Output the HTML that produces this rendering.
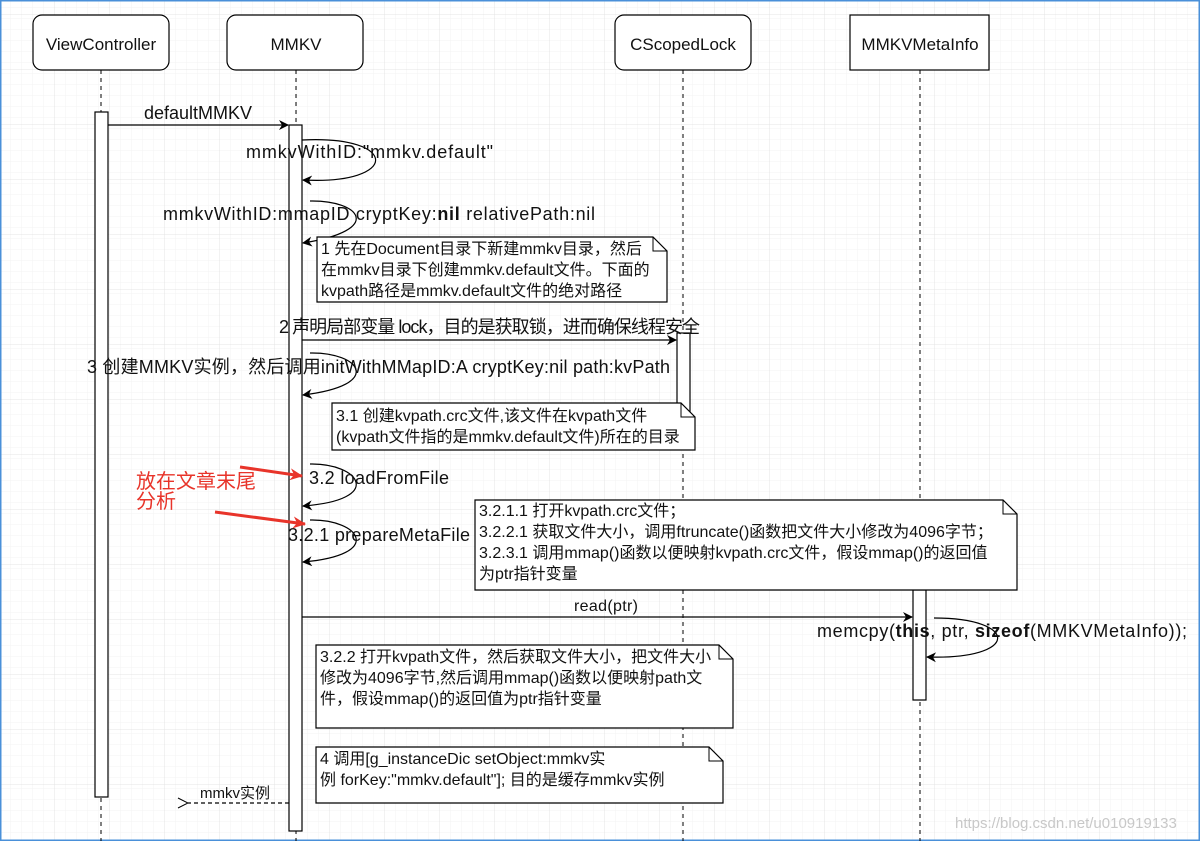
<!DOCTYPE html>
<html><head><meta charset="utf-8"><style>
body{margin:0;width:1200px;height:841px;overflow:hidden;background:#fff}
svg text{font-family:"Liberation Sans","Noto Sans CJK SC",sans-serif;fill:#111}
</style></head><body>
<svg width="1200" height="841" viewBox="0 0 1200 841" xmlns="http://www.w3.org/2000/svg">
<defs>
<pattern id="gm" width="11" height="11" patternUnits="userSpaceOnUse" x="0" y="4"><path d="M11 0V11M0 11H11" stroke="#f3f3f3" stroke-width="1" fill="none"/></pattern>
<pattern id="g" width="55" height="55" patternUnits="userSpaceOnUse" x="0" y="15"><rect width="55" height="55" fill="url(#gm)"/><path d="M55 0V55M0 55H55" stroke="#e4e4e4" stroke-width="1" fill="none"/></pattern>
<marker id="a" markerWidth="10" markerHeight="10" refX="9" refY="5" orient="auto" markerUnits="userSpaceOnUse"><path d="M0 0L10 5L0 10L3 5Z" fill="#000"/></marker>
<marker id="o" markerWidth="12" markerHeight="12" refX="1" refY="6" orient="auto" markerUnits="userSpaceOnUse"><path d="M11 1L1 6L11 11" fill="none" stroke="#000"/></marker>
<marker id="r" markerWidth="14" markerHeight="14" refX="12" refY="7" orient="auto" markerUnits="userSpaceOnUse"><path d="M0 1L13 7L0 13L4 7Z" fill="#e8342a"/></marker>
</defs>
<rect width="1200" height="841" fill="url(#g)"/>
<rect x="0.5" y="0.5" width="1199" height="840" fill="none" stroke="#4a90d9" stroke-width="2"/>
<g stroke="#000" stroke-dasharray="4,4" stroke-width="1"><path d="M101 70V841M296 70V841M683 70V841M920 70V841"/></g>
<g fill="#fff" stroke="#000" stroke-width="1.2">
<rect x="33" y="15" width="136" height="55" rx="9"/><rect x="227" y="15" width="136" height="55" rx="9"/>
<rect x="615" y="15" width="136" height="55" rx="9"/><rect x="850" y="15" width="139" height="55"/>
<rect x="95" y="112" width="13" height="685"/><rect x="289" y="125" width="13" height="706"/>
<rect x="677" y="333" width="13" height="80"/><rect x="913" y="590" width="13" height="110"/>
</g>
<g font-size="17" text-anchor="middle"><text x="101" y="50">ViewController</text><text x="296" y="50">MMKV</text><text x="683" y="50">CScopedLock</text><text x="920" y="50">MMKVMetaInfo</text></g>
<g stroke="#000" fill="none" stroke-width="1.2">
<path d="M108 125H288" marker-end="url(#a)"/>
<path d="M302 140C400 135 400 185 303 180" marker-end="url(#a)"/>
<path d="M310 201C360 200 385 230 303 243" marker-end="url(#a)"/>
<path d="M302 340H676" marker-end="url(#a)"/>
<path d="M310 353C360 352 385 385 303 395" marker-end="url(#a)"/>
<path d="M310 464C360 463 385 500 303 506" marker-end="url(#a)"/>
<path d="M310 520C360 519 385 555 303 562" marker-end="url(#a)"/>
<path d="M302 617H912" marker-end="url(#a)"/>
<path d="M934 618C1020 618 1020 660 927 657" marker-end="url(#a)"/>
<path d="M289 803H188" stroke-dasharray="4,3" marker-end="url(#o)"/>
</g>
<g font-size="18" lengthAdjust="spacingAndGlyphs">
<text x="144" y="119" textLength="108">defaultMMKV</text>
<text x="246" y="158" textLength="247">mmkvWithID:"mmkv.default"</text>
<text x="163" y="220" textLength="432">mmkvWithID:mmapID cryptKey:<tspan font-weight="bold">nil</tspan> relativePath:nil</text>
<text x="279" y="333" textLength="421">2 声明局部变量 lock，目的是获取锁，进而确保线程安全</text>
<text x="87" y="373" textLength="583">3 创建MMKV实例，然后调用initWithMMapID:A cryptKey:nil path:kvPath</text>
<text x="309" y="484" textLength="140">3.2 loadFromFile</text>
<text x="288" y="541" textLength="182">3.2.1 prepareMetaFile</text>
<text x="574" y="611" textLength="64" font-size="16">read(ptr)</text>
<text x="817" y="637" textLength="370">memcpy(<tspan font-weight="bold">this</tspan>, ptr, <tspan font-weight="bold">sizeof</tspan>(MMKVMetaInfo));</text>
<text x="200" y="798" font-size="15">mmkv实例</text>
</g>
<g fill="#fff" stroke="#000" stroke-width="1.2">
<path d="M317 237H653L667 251V302H317Z"/><path d="M332 403H681L695 417V450H332Z"/>
<path d="M475 500H1003L1017 514V590H475Z"/><path d="M316 645H719L733 659V728H316Z"/>
<path d="M316 747H709L723 761V803H316Z"/>
</g>
<g fill="none" stroke="#000" stroke-width="1"><path d="M653 237V251H667M681 403V417H695M1003 500V514H1017M719 645V659H733M709 747V761H723"/></g>
<g font-size="16">
<text x="321" y="254">1 先在Document目录下新建mmkv目录，然后</text>
<text x="321" y="275">在mmkv目录下创建mmkv.default文件。下面的</text>
<text x="321" y="296">kvpath路径是mmkv.default文件的绝对路径</text>
<text x="336" y="421">3.1 创建kvpath.crc文件,该文件在kvpath文件</text>
<text x="336" y="442">(kvpath文件指的是mmkv.default文件)所在的目录</text>
<text x="479" y="516">3.2.1.1 打开kvpath.crc文件；</text>
<text x="479" y="537">3.2.2.1 获取文件大小，调用ftruncate()函数把文件大小修改为4096字节；</text>
<text x="479" y="558">3.2.3.1 调用mmap()函数以便映射kvpath.crc文件，假设mmap()的返回值</text>
<text x="479" y="579">为ptr指针变量</text>
<text x="320" y="662">3.2.2 打开kvpath文件，然后获取文件大小，把文件大小</text>
<text x="320" y="683">修改为4096字节,然后调用mmap()函数以便映射path文</text>
<text x="320" y="704">件，假设mmap()的返回值为ptr指针变量</text>
<text x="320" y="764">4 调用[g_instanceDic setObject:mmkv实</text>
<text x="320" y="785">例 forKey:"mmkv.default"]; 目的是缓存mmkv实例</text>
</g>
<g stroke="#e8342a" stroke-width="3" fill="none"><path d="M240 467L302 476" marker-end="url(#r)"/><path d="M215 512L305 524" marker-end="url(#r)"/></g>
<text x="136" y="488" font-size="20" style="fill:#e8342a">放在文章末尾</text>
<text x="136" y="508" font-size="20" style="fill:#e8342a">分析</text>
<text x="955" y="828" font-size="15" style="fill:#c8c8c8">https://blog.csdn.net/u010919133</text>
</svg>
</body></html>
